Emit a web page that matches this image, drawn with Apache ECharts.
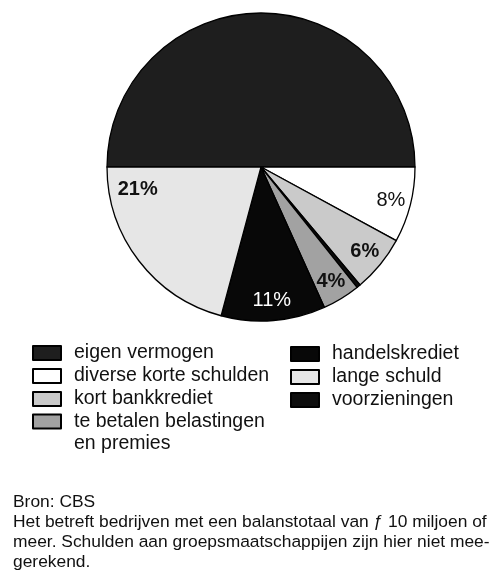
<!DOCTYPE html>
<html>
<head>
<meta charset="utf-8">
<script src="https://cdn.jsdelivr.net/npm/echarts@6/dist/echarts.min.js"></script>
<style>
  html, body { margin: 0; padding: 0; background: #fff; }
  #chart { width: 495px; height: 576px; }
</style>
</head>
<body>
<div id="chart"></div>
<script>
// slices in drawing order, clockwise from 9 o'clock
var names = ['eigen vermogen', 'diverse korte schulden', 'kort bankkrediet', 'voorzieningen',
             'te betalen belastingen en premies', 'handelskrediet', 'lange schuld']
var values = [50.4, 8, 6, 0.4, 4, 11, 21]
var labels = ['', '8%', '6%', '', '4%', '11%', '21%']
var colors = ['#1e1e1e', '#ffffff', '#cacaca', '#0d0d0d', '#a2a2a2', '#080808', '#e6e6e6']

var legendLeft = ['eigen vermogen', 'diverse korte schulden', 'kort bankkrediet']
var legendLeft2 = ['te betalen belastingen en premies']
var legendRight = ['handelskrediet', 'lange schuld', 'voorzieningen']

var note = 'Bron: CBS\nHet betreft bedrijven met een balanstotaal van \u0192 10 miljoen of\nmeer. Schulden aan groepsmaatschappijen zijn hier niet mee-\ngerekend.'

var font = 'Liberation Sans, Arial, sans-serif'

var shapes = names.map(function (n, i) {
    return { name: n, value: values[i], itemStyle: { color: colors[i] } }
})

var tags = names.map(function (n, i) {
    var lab = {
        show: labels[i] !== '',
        formatter: labels[i],
        color: i === 5 ? '#fff' : '#111',
        fontWeight: (i === 1 || i === 5) ? 'normal' : 'bold'
    }
    if (i === 6) lab.offset = [-17, -59]
    return { name: n, value: values[i], label: lab }
})

function wrap(lines) {
    return lines.map(function (l) { return '{t|' + l + '}' }).join('\n')
}

function makeLegend(list, left, top, fmt) {
    return {
        orient: 'vertical',
        left: left,
        top: top,
        icon: 'rect',
        itemWidth: 28,
        itemHeight: 14,
        itemGap: 3,
        selectedMode: false,
        data: list,
        formatter: fmt,
        textStyle: {
            rich: {
                t: { fontFamily: font, fontSize: 19.5, lineHeight: 22.5, color: '#111', padding: [0, 0, 0, 8] }
            }
        }
    }
}

var chart = echarts.init(document.getElementById('chart'))
chart.setOption({
    animation: false,
    backgroundColor: '#fff',
    title: {
        text: note,
        left: 13,
        top: 492,
        padding: 0,
        textStyle: { fontFamily: font, fontSize: 17.4, fontWeight: 'normal', color: '#111', lineHeight: 20 }
    },
    legend: [
        makeLegend(legendLeft, 27, 338, function (n) { return wrap([n]) }),
        // blank first line keeps the icon level with the first text line
        makeLegend(legendLeft2, 27, 384, function () { return wrap([' ', 'te betalen belastingen', 'en premies']) }),
        makeLegend(legendRight, 285, 339, function (n) { return wrap([n]) })
    ],
    series: [
        {
            type: 'pie',
            center: [261, 167],
            radius: 154,
            startAngle: 180,
            clockwise: true,
            avoidLabelOverlap: false,
            label: { show: false },
            labelLine: { show: false },
            itemStyle: { borderColor: '#000', borderWidth: 1.3 },
            emphasis: { disabled: true },
            data: shapes
        },
        {
            type: 'pie',
            center: [261, 167],
            radius: [108, 154],
            startAngle: 180,
            clockwise: true,
            silent: true,
            avoidLabelOverlap: false,
            itemStyle: { color: 'rgba(0,0,0,0)', borderWidth: 0 },
            label: { position: 'inside', fontFamily: font, fontSize: 20 },
            labelLine: { show: false },
            emphasis: { disabled: true },
            data: tags
        }
    ]
})
</script>
</body>
</html>
